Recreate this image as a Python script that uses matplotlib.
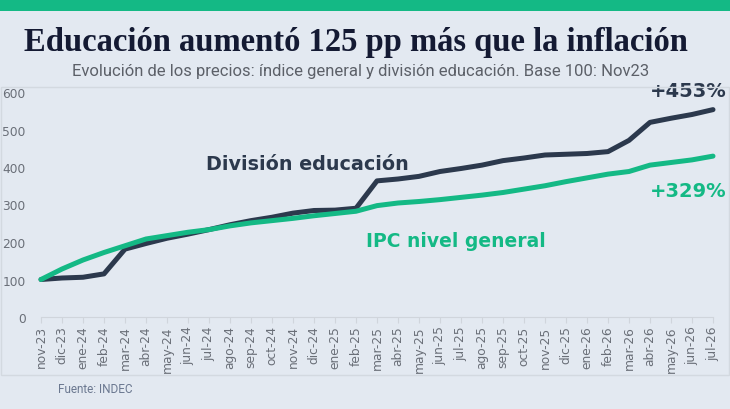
import matplotlib.pyplot as plt
from matplotlib.patches import Rectangle

meses = ['nov-23', 'dic-23', 'ene-24', 'feb-24', 'mar-24', 'abr-24', 'may-24', 'jun-24',
         'jul-24', 'ago-24', 'sep-24', 'oct-24', 'nov-24', 'dic-24', 'ene-25', 'feb-25',
         'mar-25', 'abr-25', 'may-25', 'jun-25', 'jul-25', 'ago-25', 'sep-25', 'oct-25',
         'nov-25', 'dic-25', 'ene-26', 'feb-26', 'mar-26', 'abr-26', 'may-26', 'jun-26',
         'jul-26']

# indice base 100 = nov-23
educacion = [100, 104, 106, 115, 181, 196, 210, 221, 233, 246, 257, 266, 277, 284, 285, 290,
             363, 368, 375, 388, 396, 405, 417, 424, 432, 434, 436, 441, 471, 519, 530, 540,
             553]
ipc_general = [100, 128, 152, 172, 190, 208, 217, 226, 233, 243, 251, 257, 263, 270, 276, 282,
               297, 304, 308, 313, 319, 325, 332, 341, 350, 361, 371, 381, 388, 405, 412, 419,
               429]

bg = '#e3e9f1'
verde = '#14b985'
oscuro = '#2c394d'

fig = plt.figure(figsize=(7.3, 4.1), dpi=100, facecolor=bg)

# barra verde arriba y marco del grafico
fig.patches.append(Rectangle((0, 1 - 12 / 410), 1, 12 / 410, transform=fig.transFigure,
                             facecolor=verde, edgecolor='none'))
fig.patches.append(Rectangle((0.5 / 730, 34 / 410), 728 / 730, 288 / 410, transform=fig.transFigure,
                             facecolor='none', edgecolor='#d3d9e0', linewidth=1))

ax = fig.add_axes([41 / 730, 92 / 410, 672 / 730, 225 / 410])
ax.set_facecolor(bg)

x = list(range(len(meses)))
ax.plot(x, educacion, color=oscuro, linewidth=3.6, solid_joinstyle='round',
        solid_capstyle='round', clip_on=False, zorder=3)
ax.plot(x, ipc_general, color=verde, linewidth=3.6, solid_joinstyle='round',
        solid_capstyle='round', clip_on=False, zorder=4)

ax.set_xlim(0, len(meses) - 1)
ax.set_ylim(0, 600)
ax.set_yticks([0, 100, 200, 300, 400, 500, 600])
ax.set_xticks(x)
ax.set_xticklabels(meses, rotation=90)
ax.tick_params(axis='x', colors='#d0d5dc', labelcolor='#6a6f78', labelsize=8.8, length=4, pad=2)
ax.tick_params(axis='y', length=0, labelcolor='#6a6f78', labelsize=8.8, pad=11)
for lado in ['top', 'right', 'left']:
    ax.spines[lado].set_visible(False)
ax.spines['bottom'].set_color('#d0d5dc')

fig.text(356 / 730, 1 - 42 / 410, 'Educación aumentó 125 pp más que la inflación',
         ha='center', va='center', fontsize=23.5, fontweight='bold',
         family='Liberation Serif', color='#141a33')
fig.text(361 / 730, 1 - 72 / 410,
         'Evolución de los precios: índice general y división educación. Base 100: Nov23',
         ha='center', va='center', fontsize=12, color='#5c6068', family='Roboto')

ax.text(12.69, 408, 'División educación', ha='center', va='center', fontsize=13.8,
        fontweight='bold', color=oscuro)
ax.text(19.74, 203, 'IPC nivel general', ha='center', va='center', fontsize=13.5,
        fontweight='bold', color=verde)
ax.text(32.65, 605, '+453%', ha='right', va='center', fontsize=14,
        fontweight='bold', color=oscuro, clip_on=False)
ax.text(32.65, 337, '+329%', ha='right', va='center', fontsize=14,
        fontweight='bold', color=verde, clip_on=False)

fig.text(58 / 730, 1 - 390 / 410, 'Fuente: INDEC', ha='left', va='center',
         fontsize=8.5, color='#6b7890', family='Roboto')

fig.savefig('out.png', dpi=100, facecolor=bg)
